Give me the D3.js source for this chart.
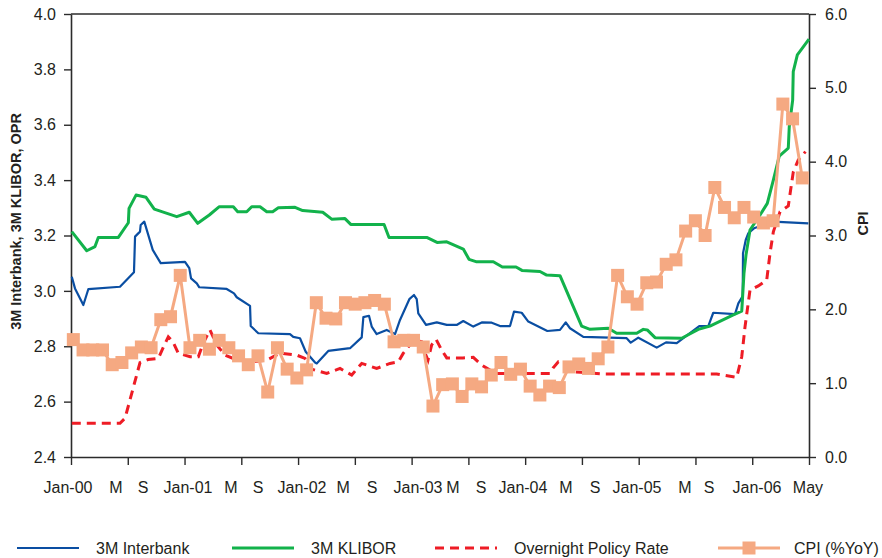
<!DOCTYPE html>
<html>
<head>
<meta charset="utf-8">
<script src="https://cdn.jsdelivr.net/npm/d3@7/dist/d3.min.js"></script>
<style>
  body { margin: 0; background: #fff; }
  svg { display: block; }
  text { font-family: "Liberation Sans", Arial, Helvetica, sans-serif; fill: #231f20; }
</style>
</head>
<body>
<svg id="chart" width="882" height="558"></svg>
<script>
// ---- data (x in months since Jan-2000) ----
const xLabels   = ["Jan-00","M","S","Jan-01","M","S","Jan-02","M","S","Jan-03","M","S","Jan-04","M","S","Jan-05","M","S","Jan-06","May"];
const xLabelPos = [-0.55,4.39,7.17,11.8,16.22,19.0,23.53,27.75,30.73,35.46,39.06,41.94,46.26,50.68,53.68,57.99,62.93,65.4,70.34,75.58];
const leftTicks  = [2.4,2.6,2.8,3.0,3.2,3.4,3.6,3.8,4.0];
const rightTicks = [0,1,2,3,4,5,6];

// 3M interbank rate
const interbank = [
  [-0.16,3.051],[0.17,3.009],[1.03,2.949],[1.54,3.006],[4.80,3.015],[6.24,3.067],[6.35,3.196],
  [6.86,3.214],[6.93,3.238],[7.30,3.250],[8.17,3.148],[8.99,3.100],[11.49,3.105],[11.93,3.082],
  [12.11,3.045],[12.70,3.027],[12.96,3.013],[15.78,3.007],[16.53,2.991],[16.81,2.977],[18.18,2.946],
  [18.25,2.873],[19.03,2.847],[22.29,2.844],[22.63,2.834],[23.32,2.829],[23.91,2.780],[24.87,2.741],
  [25.04,2.738],[26.23,2.783],[28.47,2.793],[29.67,2.832],[29.84,2.905],[30.42,2.910],[30.70,2.871],
  [31.21,2.844],[32.24,2.859],[33.10,2.844],[33.61,2.895],[34.57,2.970],[35.05,2.985],[35.33,2.970],
  [35.49,2.919],[36.29,2.877],[37.39,2.886],[38.42,2.877],[39.44,2.877],[40.12,2.891],[41.15,2.871],
  [42.02,2.886],[43.05,2.885],[43.90,2.873],[44.93,2.873],[45.34,2.925],[46.13,2.921],[46.81,2.889],
  [48.77,2.855],[50.07,2.859],[50.66,2.886],[51.10,2.865],[52.47,2.834],[56.93,2.829],[57.35,2.813],
  [58.13,2.831],[60.02,2.795],[60.98,2.814],[62.08,2.811],[64.40,2.873],[65.33,2.873],[65.84,2.921],
  [68.08,2.916],[68.42,2.955],[68.87,2.981],[68.90,3.136],[69.18,3.184],[69.44,3.208],[70.03,3.226],
  [72.02,3.250],[75.62,3.244]
];

// 3M KLIBOR
const klibor = [
  [-0.16,3.214],[1.38,3.145],[2.23,3.160],[2.57,3.193],[4.63,3.193],[5.66,3.246],[5.73,3.298],
  [6.45,3.346],[7.48,3.338],[8.33,3.295],[10.64,3.268],[11.93,3.284],[12.80,3.244],[13.99,3.274],
  [15.02,3.304],[16.46,3.304],[16.91,3.286],[17.84,3.286],[18.35,3.304],[19.21,3.304],[19.90,3.286],
  [20.51,3.286],[21.09,3.300],[22.81,3.302],[23.60,3.290],[25.66,3.284],[26.58,3.259],[27.95,3.261],
  [28.54,3.240],[31.97,3.240],[32.48,3.193],[36.36,3.193],[37.42,3.175],[38.42,3.177],[40.12,3.151],
  [40.71,3.114],[41.50,3.105],[43.21,3.105],[44.14,3.086],[45.55,3.086],[46.16,3.074],[48.01,3.070],
  [48.70,3.057],[50.07,3.055],[52.30,2.873],[53.16,2.861],[55.04,2.865],[55.90,2.847],[57.96,2.847],
  [58.64,2.861],[59.05,2.859],[59.85,2.831],[62.59,2.829],[64.30,2.861],[65.50,2.873],[67.90,2.913],
  [68.77,2.927],[69.00,3.063],[69.21,3.130],[69.62,3.220],[70.65,3.274],[71.40,3.316],[72.02,3.400],
  [72.63,3.487],[73.56,3.516],[73.66,3.593],[74.01,3.689],[74.07,3.792],[74.49,3.852],[75.69,3.909]
];

// Overnight policy rate
const opr = [
  [-0.16,2.522],[4.80,2.522],[5.32,2.540],[6.01,2.630],[6.86,2.741],[7.69,2.752],[8.74,2.756],
  [9.23,2.794],[9.77,2.834],[10.26,2.815],[10.80,2.775],[12.01,2.762],[12.86,2.762],[13.37,2.811],
  [14.06,2.859],[14.75,2.805],[15.61,2.768],[16.46,2.756],[18.52,2.744],[19.90,2.750],[21.27,2.775],
  [22.98,2.768],[23.84,2.756],[24.53,2.717],[26.07,2.702],[27.44,2.720],[28.64,2.696],[29.67,2.738],
  [31.21,2.720],[32.58,2.738],[33.44,2.744],[33.95,2.775],[34.64,2.805],[35.15,2.823],[35.84,2.816],
  [36.18,2.776],[36.49,2.750],[36.87,2.805],[37.32,2.825],[37.90,2.786],[38.42,2.758],[40.09,2.758],
  [41.15,2.760],[42.02,2.732],[42.87,2.714],[43.56,2.702],[49.04,2.702],[49.35,2.721],[49.90,2.744],
  [50.38,2.743],[51.44,2.708],[54.53,2.700],[66.19,2.700],[68.25,2.688],[68.77,2.762],[69.11,2.871],
  [69.62,3.003],[70.47,3.018],[71.34,3.039],[71.68,3.136],[72.02,3.213],[72.71,3.286],[73.56,3.307],
  [74.07,3.429],[74.59,3.473],[75.33,3.503]
];

// CPI, % year on year, monthly from Jan-2000
const cpiStartMonth = 0;
const cpi = [
  1.59,1.45,1.45,1.45,1.25,1.28,1.41,1.49,1.48,1.86,1.90,2.46,
  1.48,1.58,1.46,1.58,1.48,1.37,1.25,1.37,0.88,1.48,1.19,1.07,
  1.18,2.09,1.88,1.87,2.09,2.07,2.09,2.12,2.07,1.56,1.58,1.58,
  1.49,0.69,0.98,0.99,0.82,0.99,0.95,1.11,1.28,1.12,1.19,0.96,
  0.84,0.96,0.94,1.22,1.26,1.20,1.33,1.49,2.46,2.17,2.07,2.36,
  2.37,2.61,2.67,3.06,3.20,3.00,3.65,3.38,3.24,3.38,3.25,3.17,
  3.20,4.78,4.58,3.78
];

const seriesNames = ["3M Interbank","3M KLIBOR","Overnight Policy Rate","CPI (%YoY)"];

// ---- layout ----
const W = 882, H = 558;
const M = { left: 71, right: 73, top: 14, bottom: 101 };
const x0 = M.left, x1 = W - M.right, y0 = H - M.bottom, y1 = M.top;

const colors = { ib: "#0a4ea2", kl: "#12b24b", opr: "#ee1c25", cpi: "#f5a982", axis: "#2b2b2b" };

const svg = d3.select("#chart");

const xDomain = [-0.24, 75.69];
const x  = d3.scaleLinear().domain(xDomain).range([x0, x1]);
const yL = d3.scaleLinear().domain([2.4, 4.0]).range([y0, y1]);
const yR = d3.scaleLinear().domain([0, 6]).range([y0, y1]);

// ---- axes ----
const axisStyle = g => {
  g.selectAll(".domain").attr("stroke", colors.axis).attr("stroke-width", 1.6);
  g.selectAll(".tick line").attr("stroke", colors.axis).attr("stroke-width", 1.4);
  g.selectAll(".tick text").attr("fill", "#231f20").style("font-size", "16px");
};

// top border of plot area
svg.append("line")
  .attr("x1", x0).attr("x2", x1).attr("y1", y1).attr("y2", y1)
  .attr("stroke", colors.axis).attr("stroke-width", 1.6);

svg.append("g")
  .attr("transform", `translate(${x0},0)`)
  .call(d3.axisLeft(yL).tickValues(leftTicks).tickFormat(d3.format(".1f")).tickSize(7).tickSizeOuter(0).tickPadding(8))
  .call(axisStyle);

svg.append("g")
  .attr("transform", `translate(${x1},0)`)
  .call(d3.axisRight(yR).tickValues(rightTicks).tickFormat(d3.format(".1f")).tickSize(7).tickSizeOuter(0).tickPadding(9))
  .call(axisStyle);

// 13 equal intervals of tick marks along the time axis
const xTicks = d3.range(14).map(i => xDomain[0] + i * (xDomain[1] - xDomain[0]) / 13);
svg.append("g")
  .attr("transform", `translate(0,${y0})`)
  .call(d3.axisBottom(x).tickValues(xTicks).tickFormat("").tickSize(8).tickSizeOuter(0))
  .call(axisStyle);

svg.append("g").selectAll("text")
  .data(xLabels)
  .join("text")
  .attr("x", (d, i) => x(xLabelPos[i]))
  .attr("y", y0 + 36)
  .attr("text-anchor", "middle")
  .style("font-size", "16px")
  .text(d => d);

// axis titles
svg.append("text")
  .attr("transform", `translate(21,${(y0 + y1) / 2 - 14}) rotate(-90)`)
  .attr("text-anchor", "middle")
  .style("font-size", "14.5px").style("font-weight", "bold")
  .text("3M Interbank, 3M KLIBOR, OPR");

svg.append("text")
  .attr("transform", `translate(868,${(y0 + y1) / 2 - 12}) rotate(-90)`)
  .attr("text-anchor", "middle")
  .style("font-size", "14.5px").style("font-weight", "bold")
  .text("CPI");

// ---- series ----
const lineL = d3.line().x(d => x(d[0])).y(d => yL(d[1]));

svg.append("path").datum(interbank)
  .attr("d", lineL).attr("fill", "none")
  .attr("stroke", colors.ib).attr("stroke-width", 2.2).attr("stroke-linejoin", "round");

svg.append("path").datum(klibor)
  .attr("d", lineL).attr("fill", "none")
  .attr("stroke", colors.kl).attr("stroke-width", 3).attr("stroke-linejoin", "round");

svg.append("path").datum(opr)
  .attr("d", lineL).attr("fill", "none")
  .attr("stroke", colors.opr).attr("stroke-width", 3).attr("stroke-dasharray", "9,6");

const cpiPts = cpi.map((v, i) => [cpiStartMonth + i, v]);
const lineR = d3.line().x(d => x(d[0])).y(d => yR(d[1]));

svg.append("path").datum(cpiPts)
  .attr("d", lineR).attr("fill", "none")
  .attr("stroke", colors.cpi).attr("stroke-width", 3);

const mk = 13;
svg.append("g").selectAll("rect")
  .data(cpiPts)
  .join("rect")
  .attr("x", d => x(d[0]) - mk / 2)
  .attr("y", d => yR(d[1]) - mk / 2)
  .attr("width", mk).attr("height", mk)
  .attr("fill", colors.cpi);

// ---- legend ----
const legendY = 548;
const legend = [
  { name: seriesNames[0], color: colors.ib,  w: 2.2, dash: null,  mark: false, lx: 17,  tx: 96 },
  { name: seriesNames[1], color: colors.kl,  w: 3,   dash: null,  mark: false, lx: 232, tx: 311 },
  { name: seriesNames[2], color: colors.opr, w: 3,   dash: "9,6", mark: false, lx: 435, tx: 514 },
  { name: seriesNames[3], color: colors.cpi, w: 3,   dash: null,  mark: true,  lx: 718, tx: 794 }
];
const lg = svg.append("g").selectAll("g").data(legend).join("g");
lg.append("line")
  .attr("x1", d => d.lx).attr("x2", d => d.lx + 62)
  .attr("y1", legendY).attr("y2", legendY)
  .attr("stroke", d => d.color).attr("stroke-width", d => d.w)
  .attr("stroke-dasharray", d => d.dash);
lg.filter(d => d.mark).append("rect")
  .attr("x", d => d.lx + 31 - mk / 2).attr("y", legendY - mk / 2)
  .attr("width", mk).attr("height", mk).attr("fill", d => d.color);
lg.append("text")
  .attr("x", d => d.tx).attr("y", legendY + 5.5)
  .style("font-size", "16px")
  .text(d => d.name);
</script>
</body>
</html>
